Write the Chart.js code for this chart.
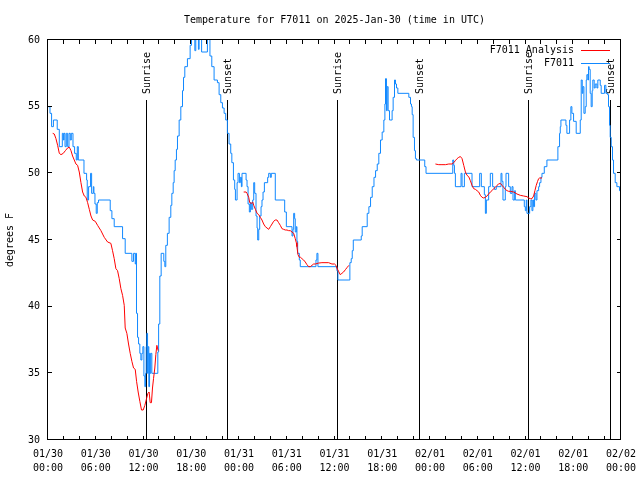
<!DOCTYPE html>
<html>
<head>
<meta charset="utf-8">
<script src="https://cdn.jsdelivr.net/npm/chart.js@4.4.1/dist/chart.umd.min.js"></script>
<style>
  html, body { margin:0; padding:0; background:#fff; }
  canvas { display:block; }
</style>
</head>
<body>
<canvas id="c" width="640" height="480"></canvas>
<script>
// hours since 2025-01-30 00:00 UTC
const tickDates = ['01/30','01/30','01/30','01/30','01/31','01/31','01/31','01/31','02/01','02/01','02/01','02/01','02/02'];
const tickTimes = ['00:00','06:00','12:00','18:00','00:00','06:00','12:00','18:00','00:00','06:00','12:00','18:00','00:00'];

const sunHours = [12.46, 22.6, 36.4, 46.7, 60.5, 70.8];
const sunLabels = ['Sunrise','Sunset','Sunrise','Sunset','Sunrise','Sunset'];

// F7011 observations
const obsHours = [0.00,0.25,0.45,0.68,1.16,1.42,1.80,1.93,2.01,2.14,2.30,2.47,2.64,2.80,2.93,3.14,3.34,3.55,3.68,3.81,
  4.52,4.85,4.93,5.10,5.35,5.48,5.69,5.77,5.90,6.06,6.19,6.35,7.82,8.03,8.32,9.37,9.70,10.54,10.75,10.96,
  11.04,11.12,11.25,11.38,11.54,11.67,11.80,11.92,12.05,12.17,12.26,12.34,12.42,12.51,12.59,12.67,12.76,12.84,12.92,13.05,
  13.80,13.90,14.05,14.22,14.55,14.68,14.80,15.00,15.22,15.43,15.56,15.73,15.85,15.98,16.14,16.27,16.48,16.69,16.90,17.03,
  17.19,17.52,17.86,18.03,18.45,18.57,18.90,18.99,19.30,20.03,20.35,20.58,20.87,21.29,21.50,21.71,21.92,22.13,22.33,22.54,
  22.75,22.96,23.10,23.30,23.46,23.55,23.76,23.88,24.05,24.17,24.30,24.38,24.89,25.01,25.14,25.30,25.43,25.55,25.72,25.85,
  25.97,26.14,26.27,26.35,26.48,26.60,26.77,26.89,27.02,27.19,27.60,27.73,27.94,28.06,28.56,29.74,29.95,30.66,30.78,30.87,
  30.99,31.07,31.20,31.28,31.37,31.58,31.70,33.67,33.79,33.92,36.30,36.43,37.81,37.93,38.10,38.23,38.36,39.36,39.48,40.11,
  40.32,40.53,40.74,40.96,41.16,41.37,41.57,41.78,41.99,42.20,42.33,42.41,42.53,42.62,42.74,42.91,43.24,43.37,43.54,43.66,
  43.79,43.96,45.34,45.55,45.67,45.76,45.88,46.05,46.17,46.30,47.34,47.50,50.86,50.98,51.07,51.19,51.90,52.03,52.32,53.28,
  54.24,54.45,54.83,54.96,55.08,55.37,55.58,55.87,56.08,56.33,56.92,57.04,57.17,57.46,57.55,57.88,58.09,58.30,58.43,58.64,
  58.72,59.85,59.98,60.10,60.18,60.39,60.52,60.68,60.81,60.93,61.02,61.14,61.31,61.44,61.65,61.77,61.94,62.07,62.36,62.69,
  64.07,64.28,64.37,64.45,65.08,65.20,65.54,65.70,65.83,66.04,66.37,66.88,67.00,67.13,67.21,67.34,67.50,67.63,67.71,67.84,
  67.92,68.00,68.13,68.25,68.38,68.46,68.63,68.76,68.97,69.09,69.39,69.51,69.93,70.10,70.31,70.43,70.56,70.64,70.77,70.93,
  71.06,71.27,71.48,71.81,71.98,72.00];
const obsTemps = [55,54.5,53.5,54,53.3,52,53,52.5,53,52,53,52,53,52.5,53,52,51.5,51,52,51,
  50,49.5,48,49,50,48.5,49,48.5,47.7,47,47.8,48,47.2,46.6,46,45.1,44,43.4,44,43.2,
  44,39.5,37.7,37.2,36.5,36,36.5,37,34.8,34,35,37,38,35,37,34,36.5,35,36.5,35,
  36.6,38.7,42.3,44,43.4,43,44.6,45.5,46.7,47.6,48.5,49.3,50.2,51,51.8,52.8,54,55,56.2,57.2,
  58,58.6,59.6,60.5,59.2,60.5,59.3,60.5,59.1,60.5,58.8,58,57,56.8,55.9,55.3,54.9,54.5,54,53,
  52.2,51.5,50.8,49.5,48.8,48,49.3,50,49.3,49.7,49,50,49.5,49,47.7,47.1,47.8,47.3,48,49.3,
  48.5,46.8,45.9,45,45.8,46.8,47.5,48,48.6,49.3,49.7,50,49.7,50,48,47.1,46,45.3,45.8,47,
  46.6,45.6,46,44.9,44,43.5,43,43.5,44,43,42.7,42,42,43.3,43.6,44.2,45,45.3,46,47,
  47.5,48.2,49,49.7,50.2,50.7,51.5,52.5,53.1,54,55.2,57.1,54.7,56.5,54.7,54,54.7,55.7,57,56.7,
  56.4,56,55.7,55.2,55,54.4,52.7,51.7,51.1,51,50.5,50,51,50.6,50,49,50,49,50,49,
  50,49,48.4,47,48,49,50,49,48.8,49,50,49.4,48,49,50,49,48.5,49,48,48.7,
  48,47.5,47.2,48,47,47,47.5,48,47.2,48,47.5,48.5,48,48.7,49,49.3,49.7,50,50.5,51,
  52,53,53.5,54,53.6,53,54,55,54.5,53.9,53,54,57,56,56.5,54.5,55,57,57.4,57,
  58,57.8,56,55,56.2,57,56.4,56.7,56.4,57,56.6,56,56.6,56,55.9,55,53.6,52.7,52,51,
  50,49.3,49,48.7,48.3,48.3];

// F7011 analysis (null = no analysis)
const anaHours = [0.59,0.79,1.00,1.21,1.42,1.63,1.92,2.18,2.46,2.68,2.89,3.09,3.30,3.51,3.72,3.93,4.14,4.35,4.56,4.77,
  4.98,5.19,5.40,5.61,5.94,6.23,6.65,7.07,7.49,7.90,8.11,8.32,8.53,8.74,8.95,9.16,9.37,9.58,9.70,9.91,
  10.12,10.33,10.54,10.75,10.96,11.13,11.33,11.54,11.75,11.96,12.17,12.38,12.55,12.71,12.84,13.00,13.13,13.26,13.42,13.55,
  13.68,13.84,14.00,
  24.59,24.89,25.01,25.22,25.35,25.55,25.72,25.85,26.06,26.27,26.48,26.68,26.89,27.10,27.31,27.52,27.73,27.94,28.15,28.35,
  28.56,28.77,28.98,29.19,29.40,29.61,29.82,30.03,30.24,30.45,30.66,30.87,31.07,31.20,31.28,31.41,31.58,31.74,31.91,32.12,
  32.33,32.54,32.75,32.96,33.17,33.38,33.59,34.00,34.42,35.26,35.68,36.01,36.18,36.30,36.51,36.72,36.93,37.14,37.40,37.60,
  37.81,40.00,
  48.68,49.10,49.39,49.94,50.36,50.77,50.98,51.19,51.40,51.61,51.82,52.03,52.24,52.45,52.65,52.86,53.07,53.28,53.49,53.70,
  53.91,54.12,54.33,54.54,54.75,54.96,55.16,55.37,55.58,55.79,56.00,56.21,56.42,56.63,56.84,57.05,57.26,57.47,57.68,57.89,
  58.10,58.52,58.93,59.35,59.77,60.19,60.40,60.61,60.81,61.02,61.18,61.35,61.52,61.65,61.77,62.07];
const anaTemps = [53.0,52.95,52.6,52.1,51.5,51.4,51.5,51.7,51.9,51.96,51.7,51.3,51.0,50.7,50.6,50.1,49.3,48.6,48.3,48.2,
  47.8,47.3,46.8,46.5,46.4,46.1,45.7,45.2,44.85,44.75,44.2,43.6,42.85,42.7,42.1,41.35,40.85,40.1,38.4,38.0,
  37.2,36.5,35.9,35.4,35.3,34.4,33.6,32.9,32.25,32.25,32.6,33.1,33.5,33.6,32.8,32.8,33.9,34.6,35.4,36.4,
  37.1,36.7,null,
  48.6,48.6,48.5,48.2,47.8,47.75,47.85,47.6,47.3,47.0,46.9,46.7,46.5,46.2,46.0,45.9,45.8,46.0,46.2,46.4,
  46.5,46.5,46.3,46.1,45.85,45.8,45.75,45.75,45.7,45.7,45.6,45.5,45.1,44.8,44.5,43.9,43.7,43.7,43.6,43.5,
  43.35,43.15,43.0,43.0,43.1,43.2,43.2,43.27,43.3,43.3,43.2,43.2,43.1,42.9,42.65,42.4,42.5,42.6,42.8,42.95,
  43.1,null,
  50.7,50.65,50.65,50.65,50.7,50.7,50.8,50.95,51.1,51.2,51.26,51.1,50.6,50.1,49.85,49.75,49.45,49.1,48.85,48.8,
  48.7,48.6,48.35,48.2,48.15,48.2,48.3,48.45,48.6,48.7,48.85,48.95,49.1,49.2,49.25,49.1,48.95,48.8,48.7,48.65,
  48.65,48.6,48.45,48.35,48.3,48.25,48.15,48.1,48.1,48.3,48.7,49.1,49.4,49.6,49.65,49.65];

const FONT = '10px "DejaVu Sans Mono", monospace';
const BLUE = 'rgb(16,136,255)';
const RED = '#ff0000';

// gnuplot-like frame: inward ticks, event lines, title, legend
const gnuFrame = {
  id: 'gnuFrame',
  beforeDatasetsDraw(chart){
    const { ctx, chartArea:a, scales:{ x } } = chart;
    ctx.save();
    ctx.strokeStyle = '#000'; ctx.fillStyle = '#000'; ctx.lineWidth = 1; ctx.font = FONT;
    sunHours.forEach((h,i)=>{
      const px = Math.round(x.getPixelForValue(h)) - 0.5;
      ctx.beginPath(); ctx.moveTo(px, a.top + 60); ctx.lineTo(px, a.bottom); ctx.stroke();
      ctx.save();
      ctx.translate(px + 1, a.top + 54);
      ctx.rotate(-Math.PI/2);
      ctx.textAlign = 'left'; ctx.textBaseline = 'middle';
      ctx.fillText(sunLabels[i], 0, 0);
      ctx.restore();
    });
    ctx.restore();
  },
  afterDraw(chart){
    const { ctx, chartArea:a, scales:{ x, y } } = chart;
    ctx.save();
    ctx.strokeStyle = '#000'; ctx.fillStyle = '#000'; ctx.lineWidth = 1; ctx.font = FONT;
    ctx.strokeRect(a.left - 0.5, a.top - 0.5, a.right - a.left, a.bottom - a.top);
    ctx.beginPath();
    for (let h = 0; h <= 72; h += 2){
      const px = Math.round(x.getPixelForValue(h)) - 0.5;
      ctx.moveTo(px, a.bottom); ctx.lineTo(px, a.bottom - 4);
      ctx.moveTo(px, a.top); ctx.lineTo(px, a.top + 4);
    }
    for (let v = 30; v <= 60; v += 5){
      const py = Math.round(y.getPixelForValue(v)) - 0.5;
      ctx.moveTo(a.left, py); ctx.lineTo(a.left + 4, py);
      ctx.moveTo(a.right, py); ctx.lineTo(a.right - 4, py);
    }
    ctx.stroke();

    // title
    ctx.textAlign = 'center'; ctx.textBaseline = 'middle';
    ctx.fillText('Temperature for F7011 on 2025-Jan-30 (time in UTC)', (a.left + a.right)/2, 20);

    // y label
    ctx.save();
    ctx.translate(10, (a.top + a.bottom)/2);
    ctx.rotate(-Math.PI/2);
    ctx.fillText('degrees F', 0, 0);
    ctx.restore();

    // legend
    chart.data.datasets.forEach((ds,i)=>{
      const ly = a.top + 10 + 13*i;
      ctx.fillStyle = '#000'; ctx.textAlign = 'right';
      ctx.fillText(ds.label, a.right - 47, ly);
      ctx.strokeStyle = ds.borderColor;
      ctx.beginPath(); ctx.moveTo(a.right - 40, ly + 0.5); ctx.lineTo(a.right - 11, ly + 0.5); ctx.stroke();
    });
    ctx.restore();
  }
};

new Chart(document.getElementById('c'), {
  type: 'line',
  data: {
    datasets: [
      { label:'F7011 Analysis', data: anaHours.map((h,i)=>({ x:h, y:anaTemps[i] })),
        borderColor: RED, borderWidth: 1, pointRadius: 0, spanGaps: false, tension: 0 },
      { label:'F7011', data: obsHours.map((h,i)=>({ x:h, y:obsTemps[i] })),
        borderColor: BLUE, borderWidth: 1, pointRadius: 0, stepped: 'before' }
    ]
  },
  options: {
    responsive: false,
    animation: false,
    devicePixelRatio: 1,
    layout: { padding: { top: 40, right: 19, left: 0, bottom: 0 } },
    plugins: { legend:{ display:false }, title:{ display:false }, tooltip:{ enabled:false } },
    scales: {
      x: {
        type: 'linear', min: 0, max: 72,
        grid: { display:false, drawTicks:false }, border: { display:false },
        ticks: {
          stepSize: 2, autoSkip: false, maxRotation: 0, padding: 7, color: '#000',
          font: { family: '"DejaVu Sans Mono", monospace', size: 10, lineHeight: 1.4 },
          callback: v => v % 6 === 0 ? [tickDates[v/6], tickTimes[v/6]] : ''
        },
        afterFit: s => { s.height = 40; s.paddingLeft = 0; s.paddingRight = 0; }
      },
      y: {
        min: 30, max: 60,
        grid: { display:false, drawTicks:false }, border: { display:false },
        ticks: { stepSize: 5, padding: 8, color: '#000',
          font: { family: '"DejaVu Sans Mono", monospace', size: 10 } },
        afterFit: s => { s.width = 48; s.paddingTop = 0; s.paddingBottom = 0; }
      }
    }
  },
  plugins: [gnuFrame]
});
</script>
</body>
</html>
